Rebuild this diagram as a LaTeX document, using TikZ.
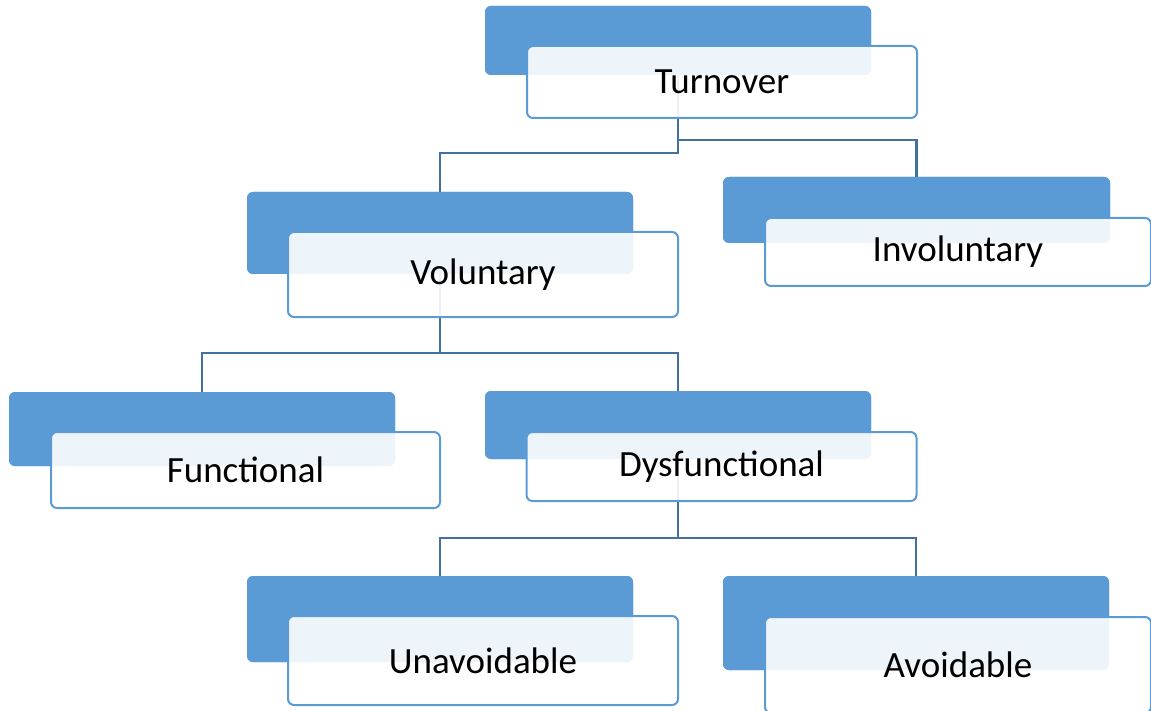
\documentclass[tikz,border=0pt]{standalone}
\usepackage{fontspec}
\setmainfont{Carlito}
\definecolor{boxblue}{HTML}{5B9BD5}
\definecolor{connblue}{HTML}{41719C}
\begin{document}
\begin{tikzpicture}[x=1pt,y=-1pt,
  back/.style={rectangle, rounded corners=6pt, fill=boxblue, draw=none, inner sep=0pt},
  front/.style={rectangle, rounded corners=6pt, fill=white, fill opacity=0.9, text opacity=1,
    draw=boxblue, line width=2pt, inner sep=0pt, font=\fontsize{37}{41}\selectfont, text=black},
  conn/.style={draw=connblue, line width=2.6pt}]
\useasboundingbox (0,0) rectangle (1151,711);
% back boxes
\node[back, minimum width=386pt, minimum height=69pt] (bT) at (678,40.5) {};
\node[back, minimum width=386pt, minimum height=82pt] (bV) at (440,233) {};
\node[back, minimum width=387pt, minimum height=66pt] (bI) at (916.5,210) {};
\node[back, minimum width=386pt, minimum height=74pt] (bF) at (202,429) {};
\node[back, minimum width=386pt, minimum height=68pt] (bD) at (678,425) {};
\node[back, minimum width=386pt, minimum height=86pt] (bU) at (440,619) {};
\node[back, minimum width=386pt, minimum height=94pt] (bA) at (916,623) {};
% connectors
\draw[conn] (bT.center) -- (bT.center |- 0,153) -| (bV.north);
\draw[conn] (bT.center |- 0,140) -| (bI.north);
\draw[conn] (bV.center) -- (bV.center |- 0,353) -| (bF.north);
\draw[conn] (bV.center |- 0,353) -| (bD.north);
\draw[conn] (bD.center) -- (bD.center |- 0,538) -| (bU.north);
\draw[conn] (bD.center |- 0,538) -| (bA.north);
% redraw back boxes over connectors
\node[back, minimum width=386pt, minimum height=69pt] at (bT.center) {};
\node[back, minimum width=386pt, minimum height=82pt] at (bV.center) {};
\node[back, minimum width=387pt, minimum height=66pt] at (bI.center) {};
\node[back, minimum width=386pt, minimum height=74pt] at (bF.center) {};
\node[back, minimum width=386pt, minimum height=68pt] at (bD.center) {};
\node[back, minimum width=386pt, minimum height=86pt] at (bU.center) {};
\node[back, minimum width=386pt, minimum height=94pt] at (bA.center) {};
% front boxes
\node[front, minimum width=390pt, minimum height=72pt] (fT) at (722,82) {Turnover};
\node[front, minimum width=390pt, minimum height=85pt] (fV) at (483,274.5) {Voluntary};
\node[front, minimum width=386pt, minimum height=68pt] (fI) at (958,252) {Involuntary};
\node[front, minimum width=389pt, minimum height=76pt] (fF) at (245.5,470) {Functional};
\node[front, minimum width=390pt, minimum height=69pt] (fD) at (721.5,466.5) {Dysfunctional};
\node[front, minimum width=390pt, minimum height=89pt] (fU) at (483,660.5) {Unavoidable};
\node[front, minimum width=386pt, minimum height=96pt] (fA) at (958,665) {Avoidable};
\end{tikzpicture}
\end{document}
